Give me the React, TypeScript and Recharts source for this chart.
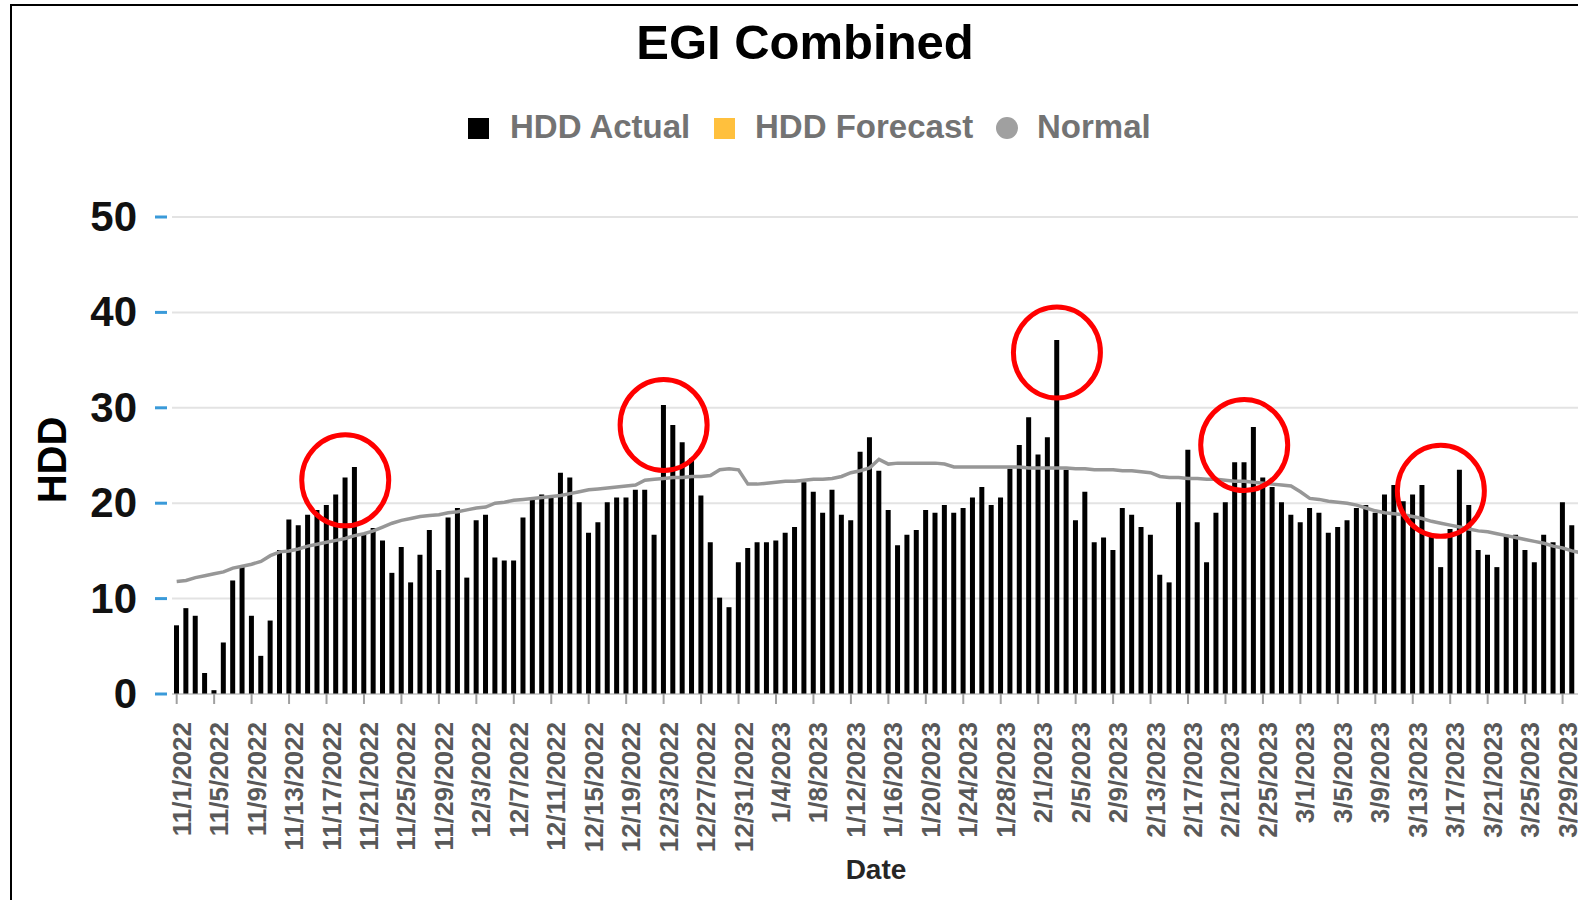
import React from 'react';
import { ComposedChart, Bar, Line, XAxis, YAxis, CartesianGrid, ReferenceDot } from 'recharts';

// HDD actual, one value per day
const novActual = [7.2, 9.0, 8.2, 2.2, 0.4, 5.4, 11.9, 13.3, 8.2, 4.0, 7.7, 15.1, 18.3, 17.7, 18.8, 19.3, 19.8, 20.9, 22.7, 23.8, 16.8, 17.4, 16.1, 12.7, 15.4, 11.7, 14.6, 17.2, 13.0, 18.5];
const decActual = [19.5, 12.2, 18.2, 18.8, 14.3, 14.0, 14.0, 18.5, 20.6, 20.9, 20.8, 23.2, 22.7, 20.1, 16.9, 18.0, 20.1, 20.6, 20.6, 21.4, 21.4, 16.7, 30.3, 28.2, 26.4, 24.7, 20.8, 15.9, 10.1, 9.1, 13.8];
const janActual = [15.3, 15.9, 15.9, 16.1, 16.9, 17.5, 22.2, 21.2, 19.0, 21.4, 18.8, 18.2, 25.4, 26.9, 23.4, 19.3, 15.6, 16.7, 17.2, 19.3, 19.0, 19.8, 19.0, 19.5, 20.6, 21.7, 19.8, 20.6, 23.6, 26.1, 29.0];
const febActual = [25.1, 26.9, 37.1, 23.5, 18.2, 21.2, 15.9, 16.4, 15.1, 19.5, 18.8, 17.5, 16.7, 12.5, 11.7, 20.1, 25.6, 18.0, 13.8, 19.0, 20.1, 24.3, 24.3, 28.0, 22.7, 21.7, 20.1, 18.8];
const marActual = [18.0, 19.5, 19.0, 16.9, 17.5, 18.2, 19.5, 19.8, 19.0, 20.9, 21.9, 20.2, 20.9, 21.9, 16.8, 13.3, 17.3, 23.5, 19.8, 15.1, 14.6, 13.3, 16.7, 16.7, 15.1, 13.8, 16.7, 15.9, 20.1, 17.7, 12.3];

// Normal HDD
const novNormal = [11.8, 11.9, 12.2, 12.4, 12.6, 12.8, 13.2, 13.4, 13.6, 13.9, 14.5, 14.9, 15.0, 15.2, 15.5, 15.7, 15.9, 16.1, 16.3, 16.6, 16.8, 17.1, 17.5, 17.9, 18.2, 18.4, 18.6, 18.7, 18.8, 19.0];
const decNormal = [19.1, 19.3, 19.5, 19.6, 20.0, 20.1, 20.3, 20.4, 20.5, 20.6, 20.7, 20.8, 21.0, 21.2, 21.4, 21.5, 21.6, 21.7, 21.8, 21.9, 22.4, 22.5, 22.6, 22.7, 22.7, 22.8, 22.8, 22.9, 23.5, 23.6, 23.5];
const janNormal = [22.0, 22.0, 22.1, 22.2, 22.3, 22.3, 22.4, 22.5, 22.5, 22.6, 22.8, 23.2, 23.4, 23.7, 24.6, 24.1, 24.2, 24.2, 24.2, 24.2, 24.2, 24.1, 23.8, 23.8, 23.8, 23.8, 23.8, 23.8, 23.8, 23.8, 23.7];
const febNormal = [23.7, 23.7, 23.7, 23.7, 23.6, 23.6, 23.5, 23.5, 23.5, 23.4, 23.4, 23.3, 23.2, 22.8, 22.7, 22.7, 22.6, 22.6, 22.5, 22.5, 22.4, 22.3, 22.3, 22.2, 22.1, 22.0, 21.9, 21.8];
const marNormal = [21.2, 20.5, 20.4, 20.2, 20.1, 20.0, 19.8, 19.5, 19.2, 19.0, 18.9, 18.8, 18.6, 18.4, 18.1, 17.9, 17.7, 17.5, 17.3, 17.1, 17.0, 16.8, 16.6, 16.4, 16.2, 16.0, 15.8, 15.5, 15.3, 15.0, 14.8];

// no forecast days in this window
const forecastValues: (number | null)[] = [];

const yTicks = [0, 10, 20, 30, 40, 50];

// circled peaks
const highlightDates = ['11/19/2022', '12/23/2022', '2/3/2023', '2/23/2023', '3/16/2023'];
const highlightValues = [22.4, 28.2, 35.8, 26.1, 21.3];

const months = [
  { month: 11, year: 2022, actual: novActual, normal: novNormal },
  { month: 12, year: 2022, actual: decActual, normal: decNormal },
  { month: 1, year: 2023, actual: janActual, normal: janNormal },
  { month: 2, year: 2023, actual: febActual, normal: febNormal },
  { month: 3, year: 2023, actual: marActual, normal: marNormal },
];

const data = months.flatMap((m) =>
  m.actual.map((v, d) => ({
    date: `${m.month}/${d + 1}/${m.year}`,
    actual: v,
    normal: m.normal[d],
  }))
).map((row, i) => ({ ...row, forecast: forecastValues[i] ?? null }));

const FONT = '"Liberation Sans", Arial, sans-serif';

const YTick = ({ x, y, payload }: any) => (
  <g>
    <line x1={x - 17} x2={x - 5} y1={y} y2={y} stroke="#3A9AD9" strokeWidth={3} />
    <text x={x - 35} y={y + 14} textAnchor="end" fontSize={42} fontWeight={700} fill="#111" fontFamily={FONT}>
      {payload.value}
    </text>
  </g>
);

const XTick = ({ x, y, payload }: any) => (
  <text
    x={x + 14}
    y={y}
    transform={`rotate(-90, ${x + 14}, ${y})`}
    textAnchor="end"
    fontSize={26}
    fontWeight={700}
    fill="#595959"
    fontFamily={FONT}
  >
    {payload.value}
  </text>
);

const Ring = ({ cx, cy }: any) => (
  <ellipse cx={cx} cy={cy} rx={43.5} ry={45.5} fill="none" stroke="#FF0000" strokeWidth={5} />
);

const legendText: React.CSSProperties = {
  position: 'absolute',
  top: 107,
  fontSize: 33,
  lineHeight: '40px',
  fontWeight: 700,
  color: '#737373',
  whiteSpace: 'nowrap',
};

export default function App() {
  return (
    <div
      style={{
        position: 'fixed',
        left: 0,
        top: 0,
        width: 1578,
        height: 900,
        overflow: 'hidden',
        background: '#fff',
        fontFamily: FONT,
      }}
    >
      <div
        style={{
          position: 'absolute',
          left: 10,
          top: 4,
          width: 1700,
          height: 1000,
          border: '2px solid #000',
        }}
      />
      <div
        style={{
          position: 'absolute',
          left: 0,
          top: 14,
          width: 1610,
          textAlign: 'center',
          fontSize: 49,
          lineHeight: '56px',
          fontWeight: 700,
          color: '#000',
        }}
      >
        EGI Combined
      </div>

      {/* legend */}
      <div style={{ position: 'absolute', left: 468, top: 118, width: 21, height: 21, background: '#000' }} />
      <div style={{ ...legendText, left: 510 }}>HDD Actual</div>
      <div style={{ position: 'absolute', left: 714, top: 118, width: 21, height: 21, background: '#FFC03D' }} />
      <div style={{ ...legendText, left: 755 }}>HDD Forecast</div>
      <div
        style={{ position: 'absolute', left: 996, top: 117, width: 22, height: 22, borderRadius: 11, background: '#A0A0A0' }}
      />
      <div style={{ ...legendText, left: 1037 }}>Normal</div>

      <div
        style={{
          position: 'absolute',
          left: 52,
          top: 460,
          transform: 'translate(-50%, -50%) rotate(-90deg)',
          fontSize: 40,
          fontWeight: 700,
          color: '#000',
          whiteSpace: 'nowrap',
        }}
      >
        HDD
      </div>
      <div
        style={{
          position: 'absolute',
          left: 876,
          top: 870,
          transform: 'translate(-50%, -50%)',
          fontSize: 28,
          fontWeight: 700,
          color: '#262626',
        }}
      >
        Date
      </div>

      <div style={{ position: 'absolute', left: 0, top: 0 }}>
        <ComposedChart
          width={1600}
          height={900}
          data={data}
          margin={{ top: 217, right: 14, bottom: 0, left: 0 }}
        >
          <CartesianGrid vertical={false} stroke="#E3E3E3" strokeWidth={2} />
          <XAxis
            dataKey="date"
            interval={3}
            height={206}
            tickSize={10}
            tickMargin={18}
            tickLine={{ stroke: '#A0A0A0', strokeWidth: 2 }}
            axisLine={{ stroke: '#BFBFBF' }}
            tick={<XTick />}
          />
          <YAxis
            width={172}
            domain={[0, 50]}
            ticks={yTicks}
            tickSize={0}
            tickMargin={0}
            tickLine={false}
            axisLine={false}
            tick={<YTick />}
          />
          <Bar dataKey="actual" name="HDD Actual" stackId="hdd" fill="#000" barSize={5} isAnimationActive={false} />
          <Bar dataKey="forecast" name="HDD Forecast" stackId="hdd" fill="#FFC03D" barSize={5} isAnimationActive={false} />
          <Line
            dataKey="normal"
            name="Normal"
            type="linear"
            stroke="#979797"
            strokeWidth={3.5}
            dot={false}
            isAnimationActive={false}
          />
          {highlightDates.map((d, i) => (
            <ReferenceDot key={d} x={d} y={highlightValues[i]} r={44} ifOverflow="visible" shape={<Ring />} />
          ))}
        </ComposedChart>
      </div>
    </div>
  );
}
